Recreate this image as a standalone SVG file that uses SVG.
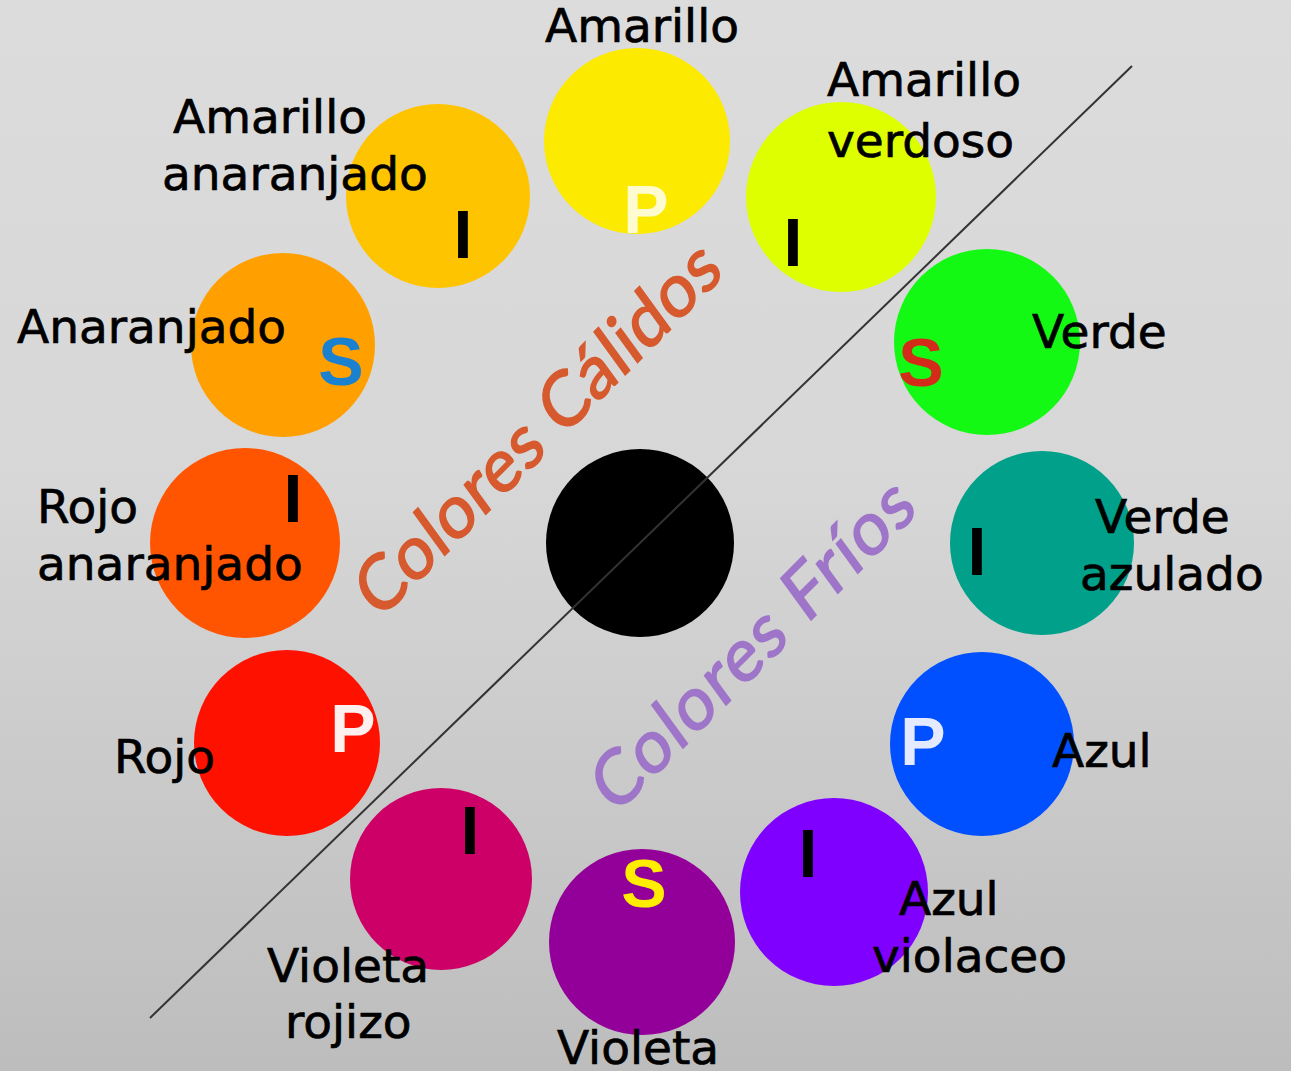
<svg xmlns="http://www.w3.org/2000/svg" width="1291" height="1071" viewBox="0 0 1291 1071">
<defs>
<linearGradient id="bg" x1="0" y1="0" x2="0" y2="1">
<stop offset="0" stop-color="#DCDCDC"/>
<stop offset="0.45" stop-color="#D7D7D7"/>
<stop offset="1" stop-color="#BDBDBD"/>
</linearGradient>
</defs>
<style>
.lbl{font-family:"DejaVu Sans",Verdana,sans-serif;font-size:47px;fill:#000;stroke:#000;stroke-width:0.7px}
.mk{font-family:"Liberation Sans",Arial,sans-serif;font-weight:bold;font-size:68px;text-anchor:middle}
.big{font-family:Lato,"Open Sans",sans-serif;font-size:71px;text-anchor:middle;stroke-width:1.6px}
</style>
<rect x="0" y="0" width="1291" height="1071" fill="url(#bg)"/>

<g id="amarillo">
<circle cx="637" cy="141" r="93" fill="#FCEA00"/>
<text class="mk" x="646" y="233" fill="#FFFBD0">P</text>
<text class="lbl" x="545" y="42">Amarillo</text>
</g>
<g id="amarillo-verdoso">
<circle cx="841" cy="197" r="95" fill="#DDFF00"/>
<text class="mk" x="793" y="266" fill="#000">I</text>
<text class="lbl" x="827" y="96">Amarillo</text>
<text class="lbl" x="827" y="157">verdoso</text>
</g>
<g id="verde">
<circle cx="987" cy="342" r="93" fill="#14F914"/>
<text class="mk" x="921" y="386" fill="#D42A1A">S</text>
<text class="lbl" x="1032" y="348">Verde</text>
</g>
<g id="verde-azulado">
<circle cx="1042" cy="543" r="92" fill="#00A08A"/>
<text class="mk" x="977" y="575" fill="#000">I</text>
<text class="lbl" x="1095" y="533">Verde</text>
<text class="lbl" x="1080" y="590">azulado</text>
</g>
<g id="azul">
<circle cx="982" cy="744" r="92" fill="#0050FF"/>
<text class="mk" x="923" y="765" fill="#E4EAFF">P</text>
<text class="lbl" x="1052" y="767">Azul</text>
</g>
<g id="azul-violaceo">
<circle cx="834" cy="892" r="94" fill="#8000FF"/>
<text class="mk" x="808" y="877" fill="#000">I</text>
<text class="lbl" x="899" y="915">Azul</text>
<text class="lbl" x="872" y="972">violaceo</text>
</g>
<g id="violeta">
<circle cx="642" cy="942" r="93" fill="#930099"/>
<text class="mk" x="644" y="907" fill="#FFEE00">S</text>
<text class="lbl" x="557" y="1064">Violeta</text>
</g>
<g id="violeta-rojizo">
<circle cx="441" cy="879" r="91" fill="#CC0066"/>
<text class="mk" x="470" y="854" fill="#000">I</text>
<text class="lbl" x="267" y="982">Violeta</text>
<text class="lbl" x="285" y="1038">rojizo</text>
</g>
<g id="rojo">
<circle cx="287" cy="743" r="93" fill="#FF1100"/>
<text class="mk" x="353" y="752" fill="#FFF0F0">P</text>
<text class="lbl" x="114" y="773">Rojo</text>
</g>
<g id="rojo-anaranjado">
<circle cx="245" cy="543" r="95" fill="#FF5500"/>
<text class="mk" x="293" y="522" fill="#000">I</text>
<text class="lbl" x="37" y="523">Rojo</text>
<text class="lbl" x="37" y="580">anaranjado</text>
</g>
<g id="anaranjado">
<circle cx="283" cy="345" r="92" fill="#FFA000"/>
<text class="mk" x="341" y="385" fill="#1A80D0">S</text>
<text class="lbl" x="17" y="343">Anaranjado</text>
</g>
<g id="amarillo-anaranjado">
<circle cx="438" cy="196" r="92" fill="#FFC400"/>
<text class="mk" x="463" y="258" fill="#000">I</text>
<text class="lbl" x="173" y="133">Amarillo</text>
<text class="lbl" x="162" y="190">anaranjado</text>
</g>
<g id="centro">
<circle cx="640" cy="543" r="94" fill="#000"/>
</g>

<g id="connectors">
<line x1="150" y1="1018" x2="1132" y2="66" stroke="#333" stroke-width="2"/>
</g>

<g id="titulos">
<text class="big" fill="#D65A2E" stroke="#D65A2E" transform="translate(552,448) rotate(-45) skewX(-9)" x="0" y="0" textLength="490" lengthAdjust="spacing">Colores Cálidos</text>
<text class="big" fill="#9E75C8" stroke="#9E75C8" transform="translate(767,664) rotate(-45) skewX(-9)" x="0" y="0" textLength="430" lengthAdjust="spacing">Colores Fríos</text>
</g>
</svg>
